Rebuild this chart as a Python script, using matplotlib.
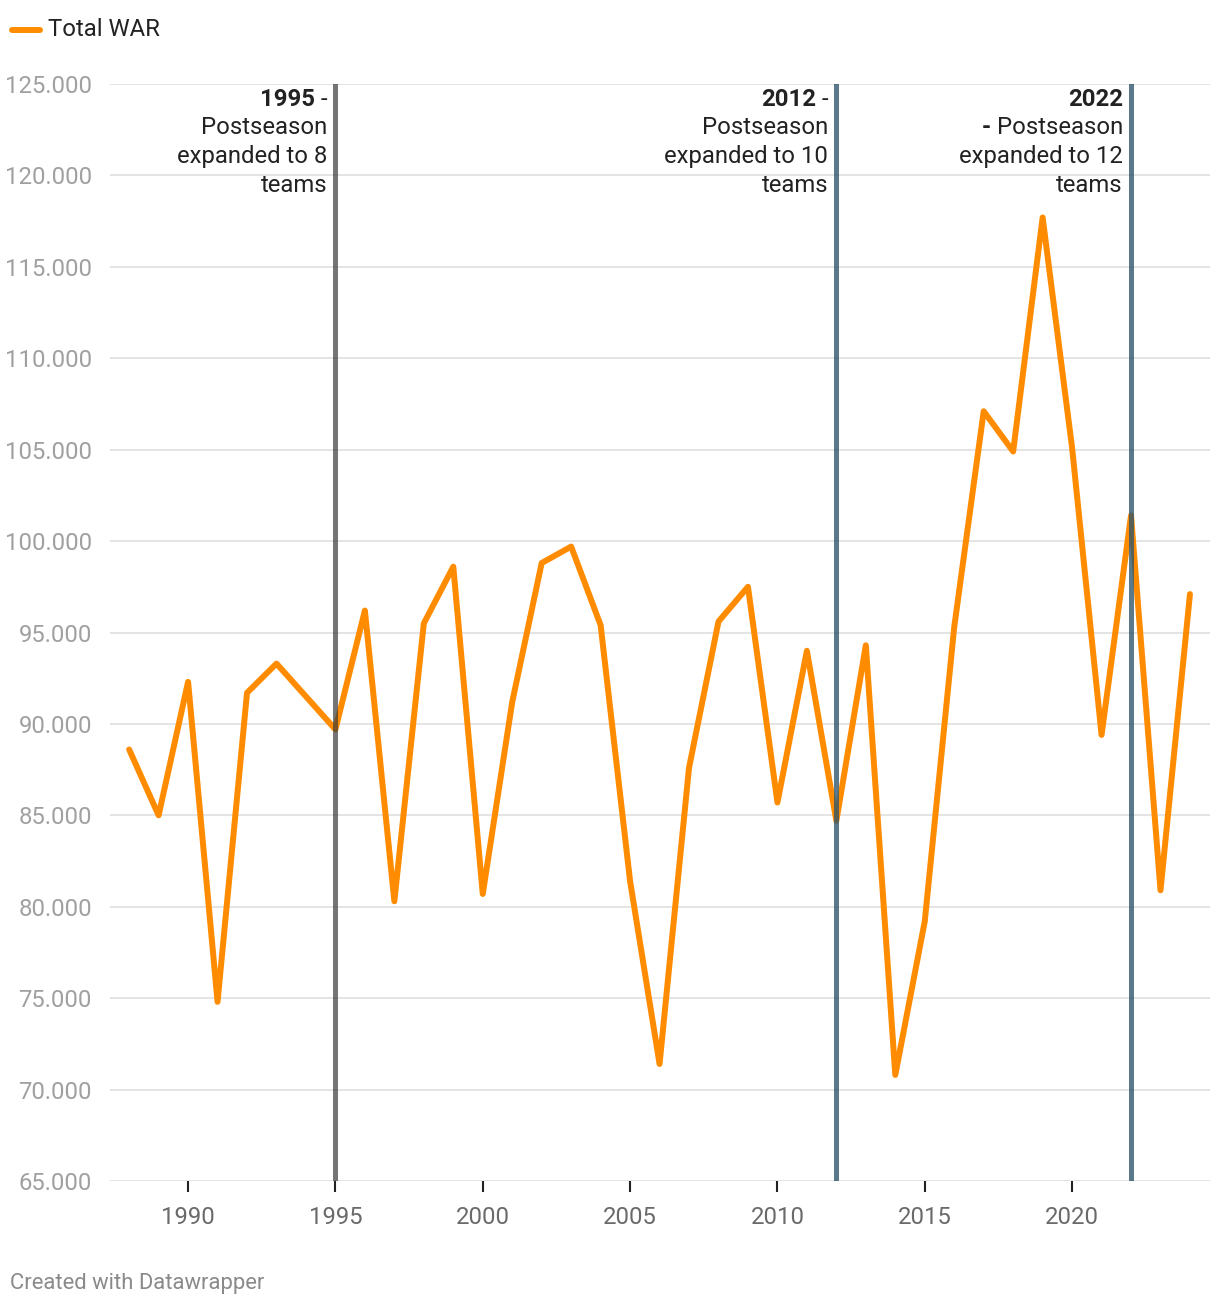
import matplotlib
matplotlib.use("Agg")
import matplotlib.pyplot as plt
import matplotlib.transforms as mtransforms
from matplotlib.ticker import FuncFormatter

plt.rcParams["font.family"] = ["Roboto", "DejaVu Sans"]

# 1994 postseason cancelled -> no value
years = [1988, 1989, 1990, 1991, 1992, 1993, 1995, 1996, 1997, 1998, 1999,
         2000, 2001, 2002, 2003, 2004, 2005, 2006, 2007, 2008, 2009, 2010,
         2011, 2012, 2013, 2014, 2015, 2016, 2017, 2018, 2019, 2020, 2021,
         2022, 2023, 2024]
total_war = [88.6, 85.0, 92.3, 74.8, 91.7, 93.3, 89.7, 96.2, 80.3, 95.5, 98.6,
             80.7, 91.2, 98.8, 99.7, 95.4, 81.4, 71.4, 87.6, 95.6, 97.5, 85.7,
             94.0, 84.7, 94.3, 70.8, 79.2, 95.3, 107.1, 104.9, 117.7, 105.1, 89.4,
             101.4, 80.9, 97.1]

marker_years = [1995, 2012, 2022]
marker_first = [("1995", " -"), ("2012", " -"), ("2022", "")]
marker_rest = [["Postseason", "expanded to 8", "teams"],
               ["Postseason", "expanded to 10", "teams"],
               ["Postseason", "expanded to 12", "teams"]]
marker_dash = ["", "", "- "]  # bold prefix on second line
marker_colors = [("#3a3a3a", 0.7), ("#2c546b", 0.78), ("#2c546b", 0.78)]

y_ticks = [65, 70, 75, 80, 85, 90, 95, 100, 105, 110, 115, 120, 125]
x_ticks = [1990, 1995, 2000, 2005, 2010, 2015, 2020]

W, H = 1220, 1308
FS = 17.2
fig = plt.figure(figsize=(W / 100, H / 100), dpi=100)
ax = fig.add_axes([110 / W, 1 - 1181 / H, 1100 / W, (1181 - 84) / H])

ax.plot(years, total_war, color="#ff8c00", linewidth=4.3, solid_joinstyle="round",
        solid_capstyle="round", zorder=3)

for yr, (c, a) in zip(marker_years, marker_colors):
    ax.axvline(yr, color=c, alpha=a, linewidth=3.6, zorder=4)

ax.set_xlim(1987.35, 2024.68)
ax.set_ylim(65, 125)
ax.set_yticks(y_ticks)
ax.set_xticks(x_ticks)
ax.yaxis.set_major_formatter(FuncFormatter(lambda v, p: f"{v:.0f}.000"))
ax.grid(axis="y", color="#e2e2e2", linewidth=1.3, zorder=0)
for s in ax.spines.values():
    s.set_visible(False)
ax.tick_params(axis="y", length=0, pad=13, labelsize=FS, labelcolor="#a0a0a0")
ax.tick_params(axis="x", length=8, width=1.5, color="#222222", pad=10,
               labelsize=FS, labelcolor="#6a6a6a")

trans = mtransforms.blended_transform_factory(ax.transData, ax.transAxes)
for yr, (bold, rest0), rest, dash in zip(marker_years, marker_first, marker_rest, marker_dash):
    t0 = ax.annotate(rest0, xy=(yr, 1), xycoords=trans, xytext=(-8, -15),
                     textcoords="offset pixels", ha="right", va="center",
                     fontsize=FS, color="#222222")
    ax.annotate(bold, xy=(0, 0.5), xycoords=t0, ha="right", va="center",
                fontsize=FS, fontweight="bold", color="#222222")
    for i, line in enumerate(rest):
        t = ax.annotate(line, xy=(yr, 1), xycoords=trans, xytext=(-8, -15 - 29 * (i + 1)),
                        textcoords="offset pixels", ha="right", va="center",
                        fontsize=FS, color="#222222")
        if i == 0 and dash:
            ax.annotate(dash, xy=(0, 0.5), xycoords=t, ha="right", va="center",
                        fontsize=FS, fontweight="bold", color="#222222")

# legend
fig.add_artist(plt.Line2D([12 / W, 40 / W], [1 - 30 / H, 1 - 30 / H], color="#ff8c00",
                          linewidth=4.3, solid_capstyle="round"))
fig.text(48 / W, 1 - 30 / H, "Total WAR", fontsize=FS, color="#222222", va="center")

fig.text(10 / W, 1 - 1284 / H, "Created with Datawrapper", fontsize=15.8, color="#8a8a8a",
         va="center")

fig.savefig("out.png", dpi=100, facecolor="white")
